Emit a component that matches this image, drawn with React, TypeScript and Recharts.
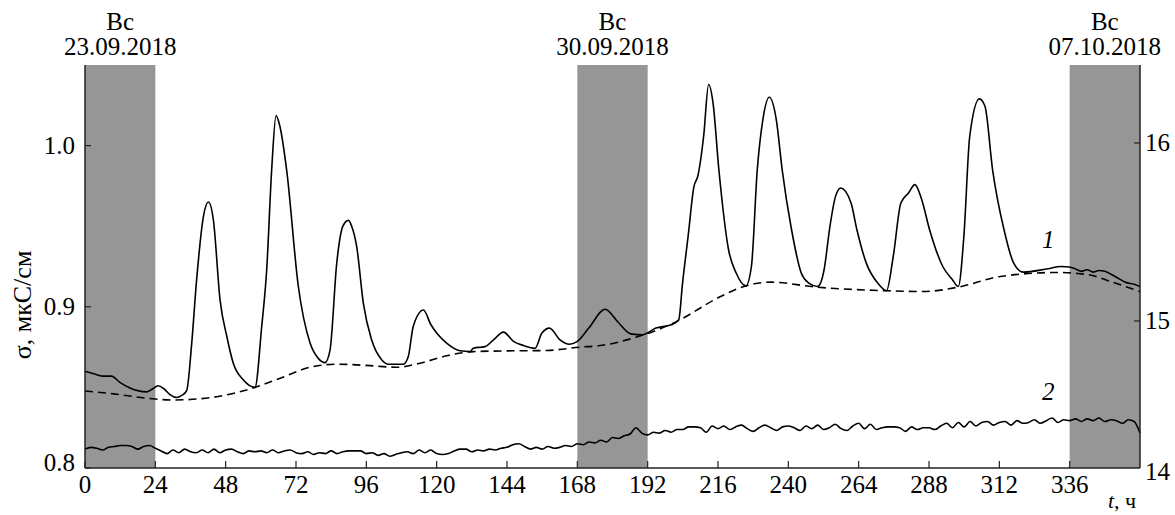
import React from "react";
import { LineChart, Line, XAxis, YAxis, ReferenceArea, ReferenceDot } from "recharts";

const FONT = "'Liberation Serif', 'Times New Roman', 'DejaVu Serif', serif";
const AXIS = "#222";
const GRAY = "#969696";
const TXT = { fontFamily: FONT };
const FS = 25;

// x axis, hours
const hourTicks = [0, 24, 48, 72, 96, 120, 144, 168, 192, 216, 240, 264, 288, 312, 336];

// left axis (σ, мкС/см)
const sigmaTicks = [0.8, 0.9, 1.0];
// right axis
const RIGHT_MIN = 14.174;
const RIGHT_MAX = 16.438;
const rightTicks = [RIGHT_MIN, 15, 16];

// sundays (gray bands)
const sundayStart = [0, 168, 336];
const sundayDates = ["23.09.2018", "30.09.2018", "07.10.2018"];

// curve 1, solid
const hours1 = [
  0, 3, 6, 9, 12, 15, 18, 21, 23, 25, 27, 29, 31.3, 33, 34.7, 36.4, 38.1, 40.4, 42.1, 43.8,
  46.1, 48.4, 50.6, 54, 58, 60.3, 62, 63.7, 65.2, 66.5, 68.8, 72.8, 76.8, 79.6, 81.9, 83.6,
  85.9, 88, 89.9, 91, 92.7, 95, 97.8, 101.3, 103.5, 108.6, 110.3, 112, 115.5, 118, 120, 123.4,
  128, 131.4, 132.5, 136.5, 139.4, 142.8, 146.2, 149.6, 153.6, 155.9, 158.5, 162.1, 165.4, 168,
  171.9, 177.5, 181.7, 186.3, 190.2, 194.8, 200, 202.6, 203.9, 205.8, 207.8, 209.1, 211.1,
  212.8, 214.3, 216.3, 219.6, 222.2, 225.5, 227.4, 229.4, 231.3, 233.5, 235.9, 237.9, 241.1,
  244.4, 247, 250, 252.2, 254.2, 256.1, 257.9, 261.4, 263.4, 266.6, 270.5, 273.5, 275.8, 278.4,
  281, 283.2, 285.5, 288.2, 292.7, 296, 298, 299.9, 301.9, 305.2, 307.1, 309.7, 313.6, 316.9,
  320.2, 328, 333.2, 335.8, 338, 340, 342, 344, 346, 348, 351.5, 355.4, 358, 360,
];
const sigma1 = [
  0.86, 0.8585, 0.857, 0.857, 0.853, 0.85, 0.848, 0.8472, 0.849, 0.851, 0.849, 0.8455, 0.8437,
  0.845, 0.848, 0.877, 0.917, 0.956, 0.965, 0.954, 0.904, 0.8816, 0.865, 0.8547, 0.85, 0.8878,
  0.923, 0.985, 1.0186, 1.012, 0.985, 0.9126, 0.8775, 0.868, 0.8654, 0.873, 0.927, 0.95, 0.9536,
  0.95, 0.9375, 0.902, 0.8795, 0.867, 0.8644, 0.8644, 0.869, 0.8878, 0.898, 0.889, 0.8837,
  0.8775, 0.8727, 0.8722, 0.8743, 0.8753, 0.8795, 0.8843, 0.8785, 0.876, 0.8743, 0.8837, 0.8868,
  0.8795, 0.8768, 0.8785, 0.8868, 0.8985, 0.8909, 0.8832, 0.8826, 0.8868, 0.8888, 0.8919,
  0.9147, 0.9437, 0.9747, 0.981, 1.0058, 1.0379, 1.0265, 0.985, 0.9354, 0.921, 0.913, 0.925,
  0.985, 1.016, 1.03, 1.016, 0.985, 0.9478, 0.921, 0.9147, 0.9126, 0.923, 0.9499, 0.9685, 0.9737,
  0.9644, 0.9478, 0.9271, 0.9147, 0.91, 0.9312, 0.9644, 0.9706, 0.9758, 0.9665, 0.9478, 0.925,
  0.9168, 0.9126, 0.9437, 1.0058, 1.029, 1.0244, 0.985, 0.9478, 0.9271, 0.9215, 0.9234, 0.925,
  0.9247, 0.9235, 0.922, 0.923, 0.9215, 0.9225, 0.922, 0.9188, 0.915, 0.914, 0.9126,
];

// dashed curve (background level)
const hoursBase = [
  0, 9.7, 21.1, 30.1, 43.8, 51.8, 58, 66.6, 76.8, 85.9, 97.3, 106.4, 114.3, 123.4, 132.5, 146.2,
  157.6, 169, 175.2, 188.2, 201.3, 216.9, 224.8, 233.9, 249.6, 273.1, 286.2, 298, 312.3, 331.9,
  342.4, 351.5, 360,
];
const sigmaBase = [
  0.8478, 0.846, 0.8433, 0.8422, 0.8439, 0.8468, 0.85, 0.8557, 0.8625, 0.8644, 0.8635, 0.8625,
  0.865, 0.8696, 0.8722, 0.8727, 0.8729, 0.875, 0.8758, 0.8812, 0.8903, 0.9064, 0.9126, 0.9153,
  0.9122, 0.91, 0.9095, 0.9122, 0.9188, 0.9213, 0.9199, 0.9147, 0.9095,
];

// curve 2, every 2 h, right axis
const sigma2 = [
  14.28, 14.29, 14.285, 14.275, 14.29, 14.295, 14.3, 14.3, 14.295, 14.28, 14.295, 14.3, 14.285,
  14.27, 14.255, 14.275, 14.26, 14.28, 14.265, 14.26, 14.275, 14.26, 14.28, 14.26, 14.275, 14.28,
  14.265, 14.255, 14.27, 14.265, 14.27, 14.26, 14.275, 14.26, 14.27, 14.275, 14.26, 14.255,
  14.265, 14.25, 14.26, 14.255, 14.27, 14.255, 14.265, 14.27, 14.27, 14.27, 14.255, 14.26,
  14.245, 14.255, 14.24, 14.25, 14.26, 14.265, 14.255, 14.275, 14.26, 14.275, 14.255, 14.25,
  14.255, 14.27, 14.28, 14.28, 14.265, 14.275, 14.27, 14.28, 14.275, 14.285, 14.29, 14.305,
  14.31, 14.295, 14.28, 14.29, 14.28, 14.295, 14.285, 14.29, 14.3, 14.295, 14.31, 14.305, 14.32,
  14.315, 14.33, 14.32, 14.345, 14.34, 14.355, 14.365, 14.4, 14.37, 14.36, 14.375, 14.37, 14.385,
  14.375, 14.39, 14.39, 14.405, 14.405, 14.4, 14.375, 14.41, 14.395, 14.41, 14.39, 14.405,
  14.415, 14.395, 14.38, 14.4, 14.415, 14.4, 14.385, 14.405, 14.41, 14.4, 14.385, 14.41, 14.395,
  14.415, 14.39, 14.4, 14.42, 14.395, 14.385, 14.41, 14.425, 14.395, 14.42, 14.39, 14.4, 14.405,
  14.405, 14.4, 14.38, 14.405, 14.39, 14.4, 14.4, 14.39, 14.41, 14.425, 14.4, 14.43, 14.405,
  14.435, 14.41, 14.43, 14.435, 14.415, 14.43, 14.435, 14.415, 14.44, 14.425, 14.43, 14.445,
  14.425, 14.44, 14.455, 14.43, 14.445, 14.44, 14.45, 14.435, 14.45, 14.44, 14.455, 14.435,
  14.445, 14.44, 14.425, 14.445, 14.435, 14.37,
];
const STEP2 = 2;

const curve1 = hours1.map((t, i) => ({ t, v: sigma1[i] }));
const curveBase = hoursBase.map((t, i) => ({ t, v: sigmaBase[i] }));
const curve2 = sigma2.map((v, i) => ({ t: i * STEP2, v }));

function HourTick({ x, y, payload }: any) {
  return (
    <g>
      <line x1={x} y1={y} x2={x} y2={y - 7} stroke={AXIS} strokeWidth={1.2} />
      <text x={x} y={y + 25} textAnchor="middle" fontSize={FS} style={TXT} fill="#000">
        {payload.value}
      </text>
    </g>
  );
}

function SigmaTick({ x, y, payload }: any) {
  const first = payload.value === sigmaTicks[0];
  return (
    <g>
      <line x1={x} y1={y} x2={x + 6} y2={y} stroke={AXIS} strokeWidth={1.2} />
      <text x={x - 10} y={y + (first ? 3 : 8)} textAnchor="end" fontSize={FS} style={TXT} fill="#000">
        {payload.value.toFixed(1)}
      </text>
    </g>
  );
}

function RightTick({ x, y, payload }: any) {
  const first = payload.value === RIGHT_MIN;
  return (
    <g>
      {!first && <line x1={x} y1={y} x2={x - 6} y2={y} stroke={AXIS} strokeWidth={1.2} />}
      <text x={x + 5} y={y + (first ? 12 : 8)} textAnchor="start" fontSize={FS} style={TXT} fill="#000">
        {Math.round(payload.value)}
      </text>
    </g>
  );
}

// two-line label above a gray band: weekday + date
function SundayLabel({ viewBox, date }: any) {
  const cx = viewBox.x + viewBox.width / 2;
  return (
    <text x={cx} y={viewBox.y - 35} textAnchor="middle" fontSize={FS} style={TXT} fill="#000">
      <tspan x={cx}>Вс</tspan>
      <tspan x={cx} dy={25}>{date}</tspan>
    </text>
  );
}

function CurveLabel({ viewBox, text }: any) {
  const cx = viewBox.x + viewBox.width / 2;
  const cy = viewBox.y + viewBox.height / 2;
  return (
    <text x={cx} y={cy + 8} textAnchor="middle" fontSize={FS} fontStyle="italic" style={TXT} fill="#000">
      {text}
    </text>
  );
}

function SigmaLabel({ viewBox }: any) {
  const x = viewBox.x + 22;
  const y = viewBox.y + 240;
  return (
    <text x={x} y={y} transform={`rotate(-90 ${x} ${y})`} textAnchor="middle" dominantBaseline="central"
      fontSize={26} style={TXT} fill="#000">
      σ, мкС/см
    </text>
  );
}

function TimeLabel({ viewBox }: any) {
  const x = viewBox.x + viewBox.width - 18;
  const y = viewBox.y + 40;
  return (
    <text x={x} y={y} textAnchor="middle" fontSize={22} style={TXT} fill="#000">
      <tspan fontStyle="italic">t</tspan>, ч
    </text>
  );
}

export default function App() {
  return (
    <div style={{ position: "absolute", left: 0, top: 0, width: 1175, height: 515, background: "#fff", fontFamily: FONT }}>
      <LineChart width={1175} height={515} margin={{ top: 65, right: 0, bottom: 0, left: 0 }} style={TXT}>
        <XAxis
          dataKey="t"
          type="number"
          domain={[0, 360]}
          ticks={hourTicks}
          interval={0}
          height={47}
          tickSize={0}
          tickMargin={0}
          tickLine={false}
          axisLine={{ stroke: AXIS, strokeWidth: 1.5 }}
          tick={<HourTick />}
          label={<TimeLabel />}
          allowDuplicatedCategory={false}
        />
        <YAxis
          yAxisId="l"
          orientation="left"
          type="number"
          width={85}
          domain={[0.8, 1.05]}
          ticks={sigmaTicks}
          interval={0}
          tickSize={0}
          tickMargin={0}
          tickLine={false}
          axisLine={{ stroke: AXIS, strokeWidth: 1.5 }}
          tick={<SigmaTick />}
          label={<SigmaLabel />}
        />
        <YAxis
          yAxisId="r"
          orientation="right"
          type="number"
          width={35}
          domain={[RIGHT_MIN, RIGHT_MAX]}
          ticks={rightTicks}
          interval={0}
          tickSize={0}
          tickMargin={0}
          tickLine={false}
          axisLine={{ stroke: AXIS, strokeWidth: 1.5 }}
          tick={<RightTick />}
        />
        {sundayStart.map((s, i) => (
          <ReferenceArea
            key={s}
            yAxisId="l"
            x1={s}
            x2={s + 24}
            fill={GRAY}
            fillOpacity={1}
            stroke="none"
            label={<SundayLabel date={sundayDates[i]} />}
          />
        ))}
        <Line
          yAxisId="l"
          data={curveBase}
          dataKey="v"
          type="monotone"
          stroke="#000"
          strokeWidth={1.6}
          strokeDasharray="8 5"
          dot={false}
          isAnimationActive={false}
        />
        <Line
          yAxisId="l"
          data={curve1}
          dataKey="v"
          type="monotone"
          stroke="#000"
          strokeWidth={1.6}
          dot={false}
          isAnimationActive={false}
        />
        <Line
          yAxisId="r"
          data={curve2}
          dataKey="v"
          type="monotone"
          stroke="#000"
          strokeWidth={1.6}
          dot={false}
          isAnimationActive={false}
        />
        <ReferenceDot yAxisId="l" x={328.7} y={0.9416} r={0} fill="none" stroke="none" label={<CurveLabel text="1" />} />
        <ReferenceDot yAxisId="r" x={328.7} y={14.6} r={0} fill="none" stroke="none" label={<CurveLabel text="2" />} />
      </LineChart>
    </div>
  );
}
